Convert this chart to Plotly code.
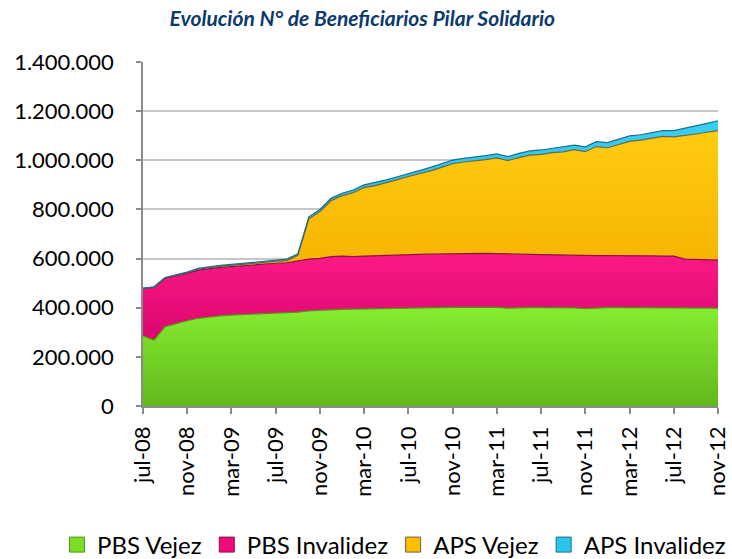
import plotly.graph_objects as go

months = ["jul-08","ago-08","sep-08","oct-08","nov-08","dic-08","ene-09","feb-09","mar-09","abr-09",
          "may-09","jun-09","jul-09","ago-09","sep-09","oct-09","nov-09","dic-09","ene-10","feb-10",
          "mar-10","abr-10","may-10","jun-10","jul-10","ago-10","sep-10","oct-10","nov-10","dic-10",
          "ene-11","feb-11","mar-11","abr-11","may-11","jun-11","jul-11","ago-11","sep-11","oct-11",
          "nov-11","dic-11","ene-12","feb-12","mar-12","abr-12","may-12","jun-12","jul-12","ago-12",
          "sep-12","oct-12","nov-12"]

tick_labels = ["jul-08","nov-08","mar-09","jul-09","nov-09","mar-10","jul-10","nov-10",
               "mar-11","jul-11","nov-11","mar-12","jul-12","nov-12"]

# values in thousands of beneficiaries
pbs_vejez = [285,268,323,336,347,357,363,367,370,372,374,376,377,379,382,387,390,392,393,394,
             395,396,397,397,398,399,400,400,401,401,401,402,401,398,400,400,400,400,400,399,
             396,399,400,400,400,400,400,399,399,398,398,398,398]
pbs_invalidez = [194,215,197,193,193,196,197,197,197,199,200,201,204,204,209,211,211,216,217,214,
                 215,216,216,218,217,218,218,219,218,219,219,219,219,220,217,217,216,215,214,214,
                 215,213,212,211,211,211,211,211,211,200,198,197,196]
aps_vejez = [0,1,2,3,3,4,4,5,5,6,6,7,8,9,22,164,190,227,246,260,
             279,285,295,306,319,328,339,352,367,373,377,382,390,381,394,404,408,416,420,430,
             424,444,439,453,466,471,478,487,485,502,511,519,527]
aps_invalidez = [0,1,1,2,2,3,3,3,4,4,4,5,5,6,6,8,9,10,10,11,
                 11,12,12,12,13,13,14,14,15,15,15,16,16,16,17,17,18,18,19,19,
                 20,20,21,21,22,22,23,24,26,30,33,36,40]

series = [
    ("PBS Vejez", pbs_vejez, "#7ADD28", "#4E9A14", ["#62B81C", "#86EC30"]),
    ("PBS Invalidez", pbs_invalidez, "#EE0A7A", "#8E0F4B", ["#DC0670", "#FA1A86"]),
    ("APS Vejez", aps_vejez, "#FFBE00", "#6E6440", ["#F5B000", "#FFCC10"]),
    ("APS Invalidez", aps_invalidez, "#2CC5EA", "#1B6F8E", ["#1AAFD8", "#3AD0F2"]),
]

FONT = "Lato, Roboto, sans-serif"

fig = go.Figure()
for name, vals, fill, edge, grad in series:
    fig.add_trace(go.Scatter(
        x=months, y=[v * 1000 for v in vals], name=name, mode="lines",
        stackgroup="one", fillcolor=fill, line=dict(color=edge, width=1.2),
        fillgradient=dict(type="vertical", colorscale=[[0, grad[0]], [1, grad[1]]]),
        showlegend=False, hoverinfo="x+y+name"))
for name, vals, fill, edge, grad in series:
    fig.add_trace(go.Scatter(
        x=[None], y=[None], name=name, mode="markers",
        marker=dict(symbol="square", size=15, color=fill, line=dict(color=edge, width=1)),
        showlegend=True))

fig.update_layout(
    width=732, height=559,
    margin=dict(l=143, r=14, t=62, b=153, autoexpand=False),
    paper_bgcolor="white", plot_bgcolor="white",
    separators=",.",
    font=dict(family=FONT, size=22, color="black"),
    title=dict(text="<b><i>Evolución N° de Beneficiarios Pilar Solidario</i></b>",
               font=dict(family=FONT, size=21, color="#0B3A6E"),
               x=0.495, xanchor="center", xref="container", y=1 - 19 / 559, yref="container",
               yanchor="middle"),
    xaxis=dict(type="category", range=[0, 52], tickmode="array",
               tickvals=tick_labels, ticktext=tick_labels, tickangle=-90,
               ticks="outside", ticklen=6, tickcolor="#8a8a8a", tickwidth=1.5,
               showline=True, linecolor="#8a8a8a", linewidth=1.5, automargin=False,
               showgrid=False, tickfont=dict(size=22), ticklabelstandoff=4),
    yaxis=dict(range=[0, 1400000], dtick=200000, tickformat=",d",
               ticks="outside", ticklen=5, tickcolor="#8a8a8a", tickwidth=1.5,
               showline=True, linecolor="#8a8a8a", linewidth=1.5, automargin=False,
               showgrid=True, gridcolor="#c6c6c6", gridwidth=1.5,
               zeroline=False, tickfont=dict(size=22), ticklabelstandoff=18),
    legend=dict(orientation="h", xref="paper", x=(57 - 143) / 575, xanchor="left",
                yref="paper", y=(406 - 545) / 344, yanchor="middle", traceorder="normal",
                font=dict(size=24), itemwidth=30, tracegroupgap=0),
)

fig.write_html("out.html", post_script="document.body.style.margin='0';",
               config={"displayModeBar": False})
